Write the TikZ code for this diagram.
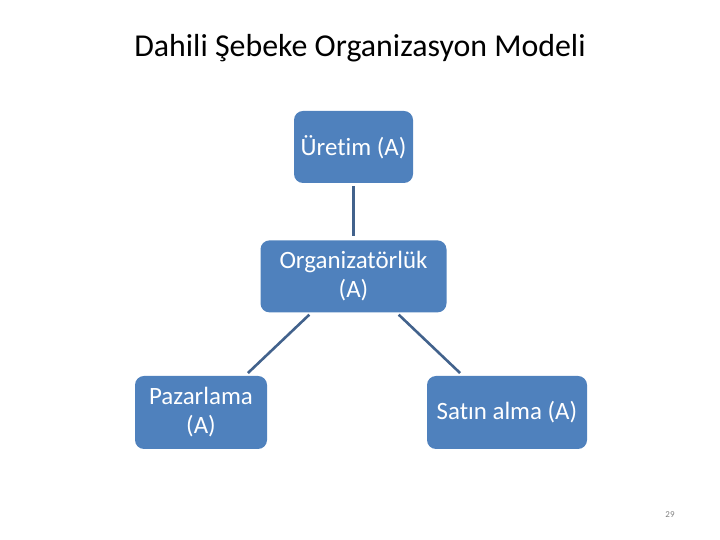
\documentclass[tikz,border=0pt]{standalone}
\usepackage{fontspec}
\setmainfont{Carlito}[Ligatures=NoCommon]
\usetikzlibrary{positioning}

\definecolor{unitblue}{RGB}{79,129,189}
\definecolor{linkblue}{RGB}{66,98,140}

\begin{document}
\begin{tikzpicture}[
    x=1bp, y=1bp,
    unit/.style={rectangle, rounded corners=9bp, fill=unitblue, text=white, align=center, inner sep=0pt, minimum height=72bp, font=\fontsize{25}{29}\selectfont},
    link/.style={draw=linkblue, line width=2.6bp, shorten <=3bp, shorten >=4bp}
]
\useasboundingbox (0,0) rectangle (720,540);

% baslik ve sayfa numarasi
\node[font=\fontsize{32}{38}\selectfont] (title) at (360,492) {Dahili Şebeke Organizasyon Modeli};
\node[font=\fontsize{9}{11}\selectfont, text=gray] (pageno) at (670,25) {29};

% birimler
\node[unit, minimum width=119bp] (uretim) at (353.5,393) {Üretim (A)};
\node[unit, minimum width=186bp, below=57bp of uretim] (organizator) {Organizatörlük\\(A)};
\node[unit, minimum width=132bp, minimum height=73bp] (pazarlama) at (201,127.5) {Pazarlama\\(A)};
\node[unit, minimum width=160bp, minimum height=73bp] (satinalma) at (507,127.5) {Satın alma (A)};

% baglantilar
\draw[link] (uretim) -- (organizator);
\draw[link] ([xshift=-42bp]organizator.south) -- ([xshift=44bp]pazarlama.north);
\draw[link] ([xshift=43bp]organizator.south) -- ([xshift=-44bp]satinalma.north);

\end{tikzpicture}
\end{document}
